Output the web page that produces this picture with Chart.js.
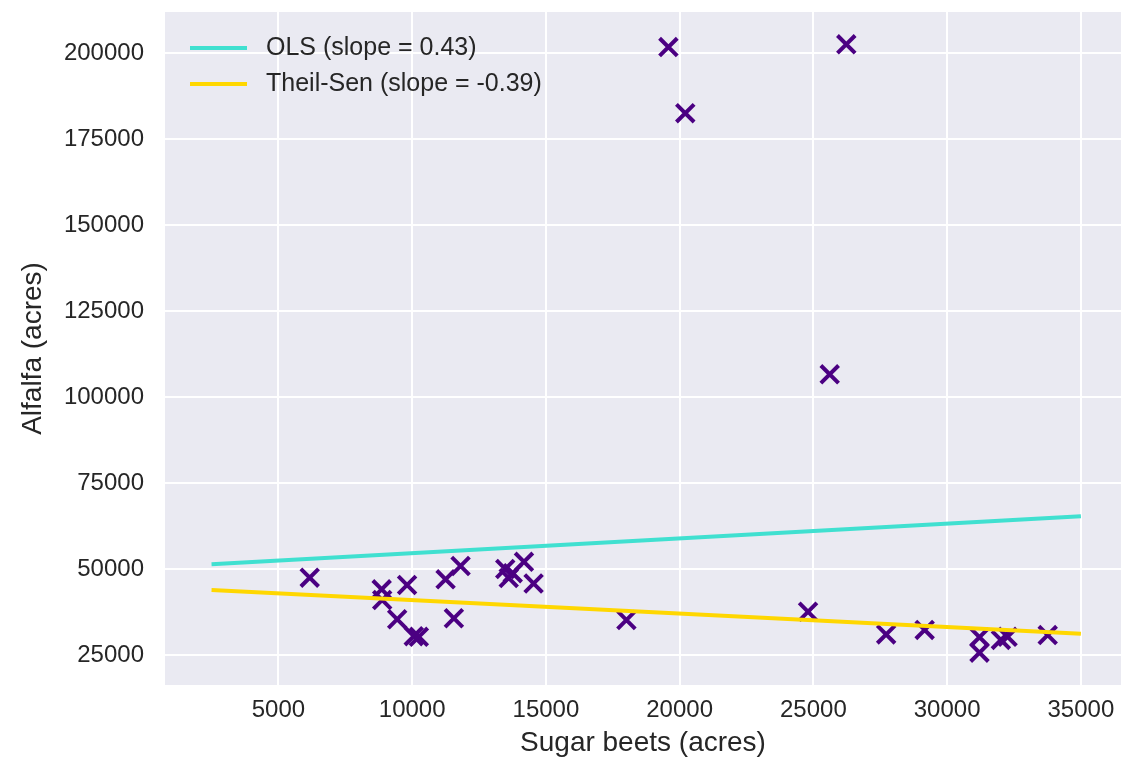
<!DOCTYPE html>
<html>
<head>
<meta charset="utf-8">
<script src="https://cdn.jsdelivr.net/npm/chart.js@4.4.0/dist/chart.umd.min.js"></script>
<style>
  html, body { margin: 0; padding: 0; background: #ffffff; }
  #wrap { width: 1122px; height: 762px; }
</style>
</head>
<body>
<div id="wrap"><canvas id="c" width="1122" height="762"></canvas></div>
<script>
// Sugar beet vs. alfalfa acreage, one point per county
const sugarBeets = [19580, 26230, 20210, 25610,
  6170, 8860, 9810, 8880, 9440, 10060, 10250, 11250, 11810, 11560,
  13480, 13610, 13760, 14180, 14540, 18010,
  24800, 27720, 29160, 31210, 31210, 32010, 32260, 33760];
const alfalfa = [201700, 202500, 182500, 106600,
  47500, 44100, 45350, 41000, 35400, 30500, 30300, 47000, 50900, 35700,
  50000, 47400, 48800, 52100, 45800, 35200,
  37600, 31000, 32300, 30200, 25700, 29400, 30300, 30800];

// Axis ticks
const xTicks = [5000, 10000, 15000, 20000, 25000, 30000, 35000];
const yTicks = [25000, 50000, 75000, 100000, 125000, 150000, 175000, 200000];

// Fitted lines: slope and intercept of each estimator over the fitted x range
const fitRange = [2500, 35000];
const olsSlope = 0.43;
const olsIntercept = 50285;
const theilSlope = -0.39;
const theilIntercept = 44864;

const FONT = "'Liberation Sans', Arial, sans-serif";
const TEXT = '#262626';

const scatterPoints = sugarBeets.map((x, i) => ({ x: x, y: alfalfa[i] }));
const fitLine = (slope, intercept) => fitRange.map(x => ({ x: x, y: intercept + slope * x }));

const datasets = [
  {
    label: 'OLS (slope = ' + olsSlope.toFixed(2) + ')',
    type: 'line',
    data: fitLine(olsSlope, olsIntercept),
    borderColor: '#40E0D0',
    backgroundColor: '#40E0D0',
    borderWidth: 4,
    pointRadius: 0,
    fill: false,
    order: 0
  },
  {
    label: 'Theil-Sen (slope = ' + theilSlope.toFixed(2) + ')',
    type: 'line',
    data: fitLine(theilSlope, theilIntercept),
    borderColor: '#FFD700',
    backgroundColor: '#FFD700',
    borderWidth: 4,
    pointRadius: 0,
    fill: false,
    order: 1
  },
  {
    label: 'counties',
    type: 'scatter',
    data: scatterPoints,
    pointStyle: 'crossRot',
    pointRadius: 12.5,
    pointBorderWidth: 4,
    borderColor: '#4B0082',
    backgroundColor: '#4B0082',
    order: 2
  }
];

// Seaborn-style plot background
const panelBackground = {
  id: 'panelBackground',
  beforeDraw(chart) {
    const { ctx, chartArea: a } = chart;
    ctx.save();
    ctx.fillStyle = '#ffffff';
    ctx.fillRect(0, 0, chart.width, chart.height);
    ctx.fillStyle = '#EAEAF2';
    ctx.fillRect(a.left, a.top, a.right - a.left, a.bottom - a.top);
    ctx.restore();
  }
};

// Legend for the two fitted lines, inside the upper-left corner of the plot
const fitLegend = {
  id: 'fitLegend',
  afterDraw(chart) {
    const { ctx, chartArea: a } = chart;
    const rows = chart.data.datasets.filter(d => d.type === 'line');
    ctx.save();
    ctx.font = '25px ' + FONT;
    ctx.textBaseline = 'middle';
    ctx.textAlign = 'left';
    rows.forEach((d, i) => {
      const y = a.top + 36 + i * 36;
      ctx.strokeStyle = d.borderColor;
      ctx.lineWidth = 4;
      ctx.beginPath();
      ctx.moveTo(a.left + 25, y);
      ctx.lineTo(a.left + 82, y);
      ctx.stroke();
      ctx.fillStyle = TEXT;
      ctx.fillText(d.label, a.left + 101, y);
    });
    ctx.restore();
  }
};

new Chart(document.getElementById('c'), {
  type: 'scatter',
  data: { datasets: datasets },
  plugins: [panelBackground, fitLegend],
  options: {
    responsive: false,
    animation: false,
    events: [],
    layout: { autoPadding: false, padding: { top: 12, right: 1, bottom: 0, left: 0 } },
    plugins: {
      legend: { display: false },
      tooltip: { enabled: false }
    },
    scales: {
      x: {
        type: 'linear',
        position: 'bottom',
        min: 760,
        max: 36500,
        afterBuildTicks: s => { s.ticks = xTicks.map(v => ({ value: v })); },
        afterFit: s => {
          s.height = 77;
          s.paddingLeft = 0;
          s.paddingRight = 0;
        },
        grid: { color: '#ffffff', lineWidth: 2, drawTicks: false },
        border: { display: false },
        ticks: {
          font: { family: FONT, size: 24 },
          color: TEXT,
          padding: 11,
          maxRotation: 0,
          autoSkip: false,
          callback: v => String(v)
        },
        title: {
          display: true,
          text: 'Sugar beets (acres)',
          font: { family: FONT, size: 28 },
          color: TEXT,
          padding: { top: 0, bottom: 2 }
        }
      },
      y: {
        type: 'linear',
        position: 'left',
        min: 16300,
        max: 211900,
        afterBuildTicks: s => { s.ticks = yTicks.map(v => ({ value: v })); },
        afterFit: s => {
          s.width = 165;
          s.paddingTop = 0;
          s.paddingBottom = 0;
        },
        grid: { color: '#ffffff', lineWidth: 2, drawTicks: false },
        border: { display: false },
        ticks: {
          font: { family: FONT, size: 24 },
          color: TEXT,
          padding: 21,
          autoSkip: false,
          callback: v => String(v)
        },
        title: {
          display: true,
          text: 'Alfalfa (acres)',
          font: { family: FONT, size: 28 },
          color: TEXT,
          padding: { top: 16, bottom: 0 }
        }
      }
    }
  }
});
</script>
</body>
</html>
